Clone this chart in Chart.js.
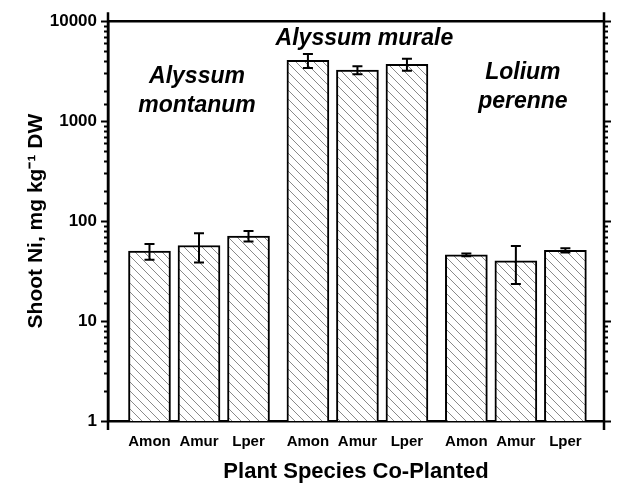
<!DOCTYPE html>
<html>
<head>
<meta charset="utf-8">
<script src="https://cdn.jsdelivr.net/npm/chart.js@4.4.1/dist/chart.umd.min.js"></script>
<style>
  html, body { margin: 0; padding: 0; background: #ffffff; }
  #wrap { width: 617px; height: 488px; }
</style>
</head>
<body>
<div id="wrap"><canvas id="chart" width="617" height="488"></canvas></div>
<script>
// Shoot Ni per host species, co-planted with Amon / Amur / Lper
var hostSpecies = [['Alyssum', 'montanum'], ['Alyssum murale'], ['Lolium', 'perenne']];
var coPlanted = ['Amon', 'Amur', 'Lper'];

var montanumNi = [50, 57, 71];
var montanumErr = [9, 18.5, 8.5];
var muraleNi = [4050, 3250, 3700];
var muraleErr = [650, 300, 500];
var loliumNi = [46, 40, 51];
var loliumErr = [1.5, 16.5, 2.5];

var yTickValues = [1, 10, 100, 1000, 10000];

var FONT = '"Liberation Sans", Arial, Helvetica, sans-serif';
var GROUP_STEP = 3.2; // x units between groups (bars inside a group are 1 apart)

// flatten the groups into one bar list
var values = [].concat(montanumNi, muraleNi, loliumNi);
var errors = [].concat(montanumErr, muraleErr, loliumErr);
var labels = [], positions = [];
for (var g = 0; g < hostSpecies.length; g++) {
  for (var s = 0; s < coPlanted.length; s++) {
    labels.push(coPlanted[s]);
    positions.push(1 + g * GROUP_STEP + s);
  }
}
var points = positions.map(function (x, i) { return { x: x, y: values[i] }; });

// diagonal hatch fill
function makeHatch() {
  var size = 9;
  var c = document.createElement('canvas');
  c.width = size; c.height = size;
  var ctx = c.getContext('2d');
  ctx.fillStyle = '#ffffff';
  ctx.fillRect(0, 0, size, size);
  ctx.strokeStyle = '#8a8a8a';
  ctx.lineWidth = 1;
  ctx.beginPath();
  for (var k = -1; k <= 1; k++) {
    ctx.moveTo(k * size, 0);
    ctx.lineTo(k * size + size, size);
  }
  ctx.stroke();
  return ctx.createPattern(c, 'repeat');
}

// frame, tick marks, error bars and in-plot titles
var decorPlugin = {
  id: 'decor',
  afterDatasetsDraw: function (chart) {
    var ctx = chart.ctx, a = chart.chartArea;
    var ys = chart.scales.y, xs = chart.scales.x;
    ctx.save();

    // error bars
    var meta = chart.getDatasetMeta(0);
    ctx.strokeStyle = '#000';
    ctx.lineWidth = 2;
    meta.data.forEach(function (bar, i) {
      var top = ys.getPixelForValue(values[i] + errors[i]);
      var bot = ys.getPixelForValue(values[i] - errors[i]);
      ctx.beginPath();
      ctx.moveTo(bar.x, top); ctx.lineTo(bar.x, bot);
      ctx.moveTo(bar.x - 5, top); ctx.lineTo(bar.x + 5, top);
      ctx.moveTo(bar.x - 5, bot); ctx.lineTo(bar.x + 5, bot);
      ctx.stroke();
    });

    // top and right axis lines, with end stubs
    ctx.lineWidth = 2.5;
    ctx.beginPath();
    ctx.moveTo(a.left, a.top); ctx.lineTo(a.right, a.top);
    ctx.moveTo(a.right, a.top - 9); ctx.lineTo(a.right, a.bottom + 9);
    ctx.moveTo(a.left, a.top - 9); ctx.lineTo(a.left, a.bottom + 9);
    ctx.stroke();

    // log ticks, outward on both sides
    ctx.lineWidth = 2;
    ys.ticks.forEach(function (t) {
      var lg = Math.log10(t.value);
      var major = Math.abs(lg - Math.round(lg)) < 1e-9;
      var len = major ? 7 : 4;
      var y = Math.round(ys.getPixelForValue(t.value)) + 0.5;
      ctx.beginPath();
      ctx.moveTo(a.left - len, y); ctx.lineTo(a.left, y);
      ctx.moveTo(a.right, y); ctx.lineTo(a.right + len, y);
      ctx.stroke();
    });

    // species titles inside the plot
    ctx.fillStyle = '#000';
    ctx.font = 'italic bold 23px ' + FONT;
    ctx.textAlign = 'center';
    ctx.textBaseline = 'middle';
    var firstLineY = [77, 39, 73];
    var shiftX = [-2, 7, 7];
    hostSpecies.forEach(function (lines, gi) {
      var cx = xs.getPixelForValue(positions[gi * 3 + 1]) + shiftX[gi];
      lines.forEach(function (txt, li) {
        ctx.fillText(txt, cx, firstLineY[gi] + li * 29);
      });
    });
    ctx.restore();
  }
};

new Chart(document.getElementById('chart'), {
  type: 'bar',
  data: {
    datasets: [{
      data: points,
      backgroundColor: makeHatch(),
      borderColor: '#000',
      borderWidth: 2,
      barThickness: 42
    }]
  },
  options: {
    responsive: false,
    animation: false,
    devicePixelRatio: 1,
    layout: { padding: { left: 0, right: 13, top: 19, bottom: 0 } },
    plugins: { legend: { display: false }, tooltip: { enabled: false } },
    scales: {
      x: {
        type: 'linear',
        offset: false,
        min: 0.162,
        max: 10.18,
        grid: { display: false, drawTicks: false, offset: false },
        border: { display: true, color: '#000', width: 2.5 },
        afterBuildTicks: function (scale) {
          scale.ticks = positions.map(function (v) { return { value: v }; });
        },
        afterFit: function (scale) { scale.height = 67; },
        ticks: {
          autoSkip: false,
          maxRotation: 0,
          padding: 12,
          color: '#000',
          font: { family: FONT, size: 15, weight: 'bold' },
          callback: function (value, index) { return labels[index]; }
        },
        title: {
          display: true,
          text: 'Plant Species Co-Planted',
          color: '#000',
          font: { family: FONT, size: 22, weight: 'bold' },
          padding: { top: 4, bottom: 3 }
        }
      },
      y: {
        type: 'logarithmic',
        min: 1,
        max: 10000,
        grid: { display: false, drawTicks: false },
        border: { display: true, color: '#000', width: 2.5 },
        afterFit: function (scale) { scale.width = 108; },
        ticks: {
          autoSkip: false,
          padding: 11,
          color: '#000',
          font: { family: FONT, size: 17, weight: 'bold' },
          callback: function (value) {
            return yTickValues.indexOf(value) >= 0 ? String(value) : '';
          }
        },
        title: {
          display: true,
          text: 'Shoot Ni, mg kg\u207B\u00B9 DW',
          color: '#000',
          font: { family: FONT, size: 21, weight: 'bold' },
          padding: { top: 24, bottom: 0 }
        }
      }
    }
  },
  plugins: [decorPlugin]
});
</script>
</body>
</html>
